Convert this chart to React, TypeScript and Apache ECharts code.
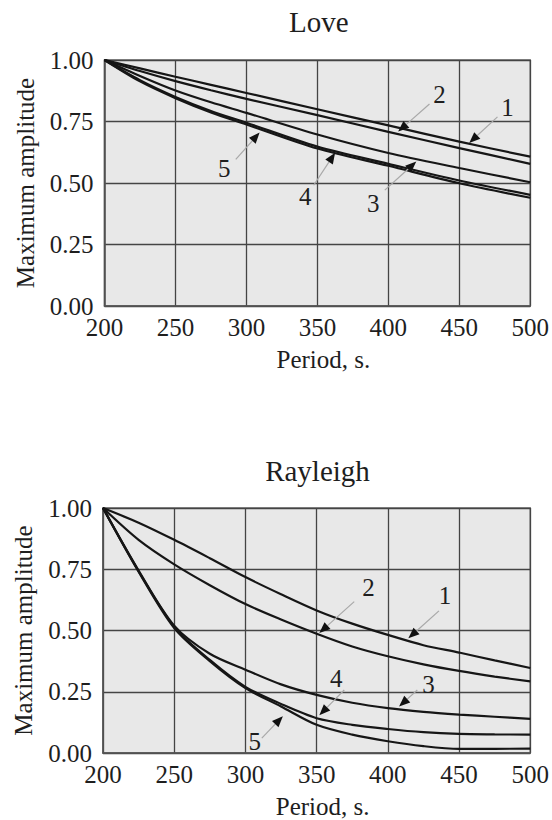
import React, { useEffect, useRef } from "react";
import * as echarts from "echarts";

const FONT = '"Liberation Serif", "Times New Roman", serif';

// x ticks and y ticks (shared by both panels)
const xTicks = [200, 250, 300, 350, 400, 450, 500];
const yTicks = [0, 0.25, 0.5, 0.75, 1.0];

// Love waves
const loveX = [200, 225, 250, 275, 300, 350, 400, 450, 500];
const love1 = [1.0, 0.966, 0.932, 0.899, 0.866, 0.8, 0.734, 0.668, 0.607];
const love2 = [1.0, 0.955, 0.914, 0.877, 0.842, 0.776, 0.708, 0.642, 0.578];
const love3 = [1.0, 0.935, 0.876, 0.828, 0.785, 0.697, 0.622, 0.561, 0.503];
const love4 = [1.0, 0.918, 0.85, 0.793, 0.745, 0.648, 0.578, 0.51, 0.452];
const love5 = [1.0, 0.913, 0.845, 0.787, 0.738, 0.64, 0.57, 0.499, 0.44];

// Rayleigh waves
const rayX = [200, 225, 250, 275, 300, 325, 350, 375, 400, 425, 450, 475, 500];
const ray1 = [1.0, 0.94, 0.87, 0.795, 0.718, 0.648, 0.582, 0.528, 0.482, 0.44, 0.41, 0.378, 0.347];
const ray2 = [1.0, 0.87, 0.77, 0.685, 0.608, 0.545, 0.487, 0.435, 0.395, 0.362, 0.335, 0.312, 0.292];
const ray3 = [1.0, 0.745, 0.52, 0.405, 0.34, 0.28, 0.237, 0.205, 0.183, 0.168, 0.157, 0.148, 0.139];
const ray4 = [1.0, 0.742, 0.515, 0.38, 0.27, 0.2, 0.142, 0.115, 0.098, 0.085, 0.078, 0.076, 0.075];
const ray5 = [1.0, 0.74, 0.51, 0.375, 0.265, 0.19, 0.115, 0.075, 0.048, 0.028, 0.017, 0.017, 0.018];

// curve labels: number, label anchor, leader tail, arrow tip (data coords)
const loveNotes = [
  { label: "1", text: [483.9, 0.808], tail: [476.9, 0.769], tip: [457, 0.663] },
  { label: "2", text: [436, 0.861], tail: [429, 0.821], tip: [406.9, 0.709] },
  { label: "3", text: [389.4, 0.418], tail: [397.5, 0.471], tip: [419.7, 0.587] },
  { label: "4", text: [341.5, 0.444], tail: [347.4, 0.491], tip: [362.5, 0.623] },
  { label: "5", text: [284.4, 0.557], tail: [292.5, 0.596], tip: [309.3, 0.705] },
];
const rayNotes = [
  { label: "1", text: [440.1, 0.642], tail: [435.9, 0.58], tip: [414.4, 0.468] },
  { label: "2", text: [386.4, 0.674], tail: [376.4, 0.618], tip: [351.9, 0.49] },
  { label: "3", text: [428.5, 0.278], tail: [420.7, 0.257], tip: [407.9, 0.19] },
  { label: "4", text: [363.8, 0.303], tail: [369.4, 0.257], tip: [351.9, 0.154] },
  { label: "5", text: [306.6, 0.046], tail: [311.5, 0.061], tip: [326.3, 0.15] },
];

const panels = [
  { title: "Love", x: loveX, ys: [love1, love2, love3, love4, love5], notes: loveNotes },
  { title: "Rayleigh", x: rayX, ys: [ray1, ray2, ray3, ray4, ray5], notes: rayNotes },
];

const grids = [
  { left: 104.5, right: 19, top: 60, height: 246 },
  { left: 103, right: 20, top: 508, height: 247 },
];

export default function App() {
  const ref = useRef<HTMLDivElement>(null);
  useEffect(() => {
    document.body.style.margin = "0";
    if (!ref.current) return;
    const chart = echarts.init(ref.current, undefined, { renderer: "svg" });

    const textColor = "#1e1e1e";
    const option: any = {
      animation: false,
      backgroundColor: "#ffffff",
      grid: grids.map((g) => ({
        ...g,
        show: true,
        backgroundColor: "#e8e8e8",
        borderColor: "#6a6a6a",
        borderWidth: 1.5,
        containLabel: false,
      })),
      xAxis: grids.map((_, i) => ({
        type: "value",
        gridIndex: i,
        min: xTicks[0],
        max: xTicks[xTicks.length - 1],
        interval: xTicks[1] - xTicks[0],
        name: "Period, s.",
        nameLocation: "middle",
        nameGap: 41,
        nameTextStyle: { fontFamily: FONT, fontSize: 25, color: textColor, padding: [0, 0, 0, 12] },
        axisLine: { show: true, lineStyle: { color: "#555", width: 1.5 } },
        axisTick: { show: false },
        axisLabel: { fontFamily: FONT, fontSize: 25, color: textColor, margin: 9, formatter: (v: number) => String(v) },
        splitLine: { show: true, lineStyle: { color: "#444", width: 1.3 } },
      })),
      yAxis: grids.map((_, i) => ({
        type: "value",
        gridIndex: i,
        min: yTicks[0],
        max: yTicks[yTicks.length - 1],
        interval: yTicks[1] - yTicks[0],
        name: "Maximum amplitude",
        nameLocation: "middle",
        nameGap: 67,
        nameTextStyle: { fontFamily: FONT, fontSize: 25, color: textColor },
        axisLine: { show: true, lineStyle: { color: "#555", width: 1.5 } },
        axisTick: { show: false },
        axisLabel: { fontFamily: FONT, fontSize: 25, color: textColor, margin: 11, formatter: (v: number) => v.toFixed(2) },
        splitLine: { show: true, lineStyle: { color: "#444", width: 1.3 } },
      })),
      series: panels.flatMap((p, i) =>
        p.ys.map((ys, k) => ({
          type: "line",
          name: `${p.title} ${k + 1}`,
          xAxisIndex: i,
          yAxisIndex: i,
          data: p.x.map((x, j) => [x, ys[j]]),
          showSymbol: false,
          smooth: 0.3,
          lineStyle: { color: "#161616", width: 2.2 },
          z: 3,
        }))
      ),
    };
    chart.setOption(option);

    const graphic: any[] = [];
    const titleY = [22, 471];
    panels.forEach((p, i) => {
      const g = grids[i];
      const cx = g.left + (552 - g.left - g.right) / 2;
      graphic.push({
        type: "text",
        x: cx,
        y: titleY[i],
        style: { text: p.title, fontFamily: FONT, fontSize: 29, fill: textColor, textAlign: "center", textVerticalAlign: "middle" },
      });
      p.notes.forEach((n) => {
        const tp = chart.convertToPixel({ gridIndex: i }, n.text) as number[];
        const ta = chart.convertToPixel({ gridIndex: i }, n.tail) as number[];
        const tip = chart.convertToPixel({ gridIndex: i }, n.tip) as number[];
        const dx = tip[0] - ta[0];
        const dy = tip[1] - ta[1];
        const len = Math.hypot(dx, dy) || 1;
        const ux = dx / len;
        const uy = dy / len;
        const L = 11;
        const W = 4.5;
        const bx = tip[0] - ux * L;
        const by = tip[1] - uy * L;
        graphic.push({
          type: "line",
          shape: { x1: ta[0], y1: ta[1], x2: bx, y2: by },
          style: { stroke: "#a8a8a8", lineWidth: 1.2 },
          z: 10,
        });
        graphic.push({
          type: "polygon",
          shape: {
            points: [
              [tip[0], tip[1]],
              [bx - uy * W, by + ux * W],
              [bx + uy * W, by - ux * W],
            ],
          },
          style: { fill: "#111" },
          z: 11,
        });
        graphic.push({
          type: "text",
          x: tp[0],
          y: tp[1],
          style: { text: n.label, fontFamily: FONT, fontSize: 25, fill: textColor, textAlign: "center", textVerticalAlign: "middle" },
          z: 12,
        });
      });
    });
    chart.setOption({ graphic });

    return () => chart.dispose();
  }, []);
  return <div ref={ref} style={{ width: 552, height: 820 }} />;
}
